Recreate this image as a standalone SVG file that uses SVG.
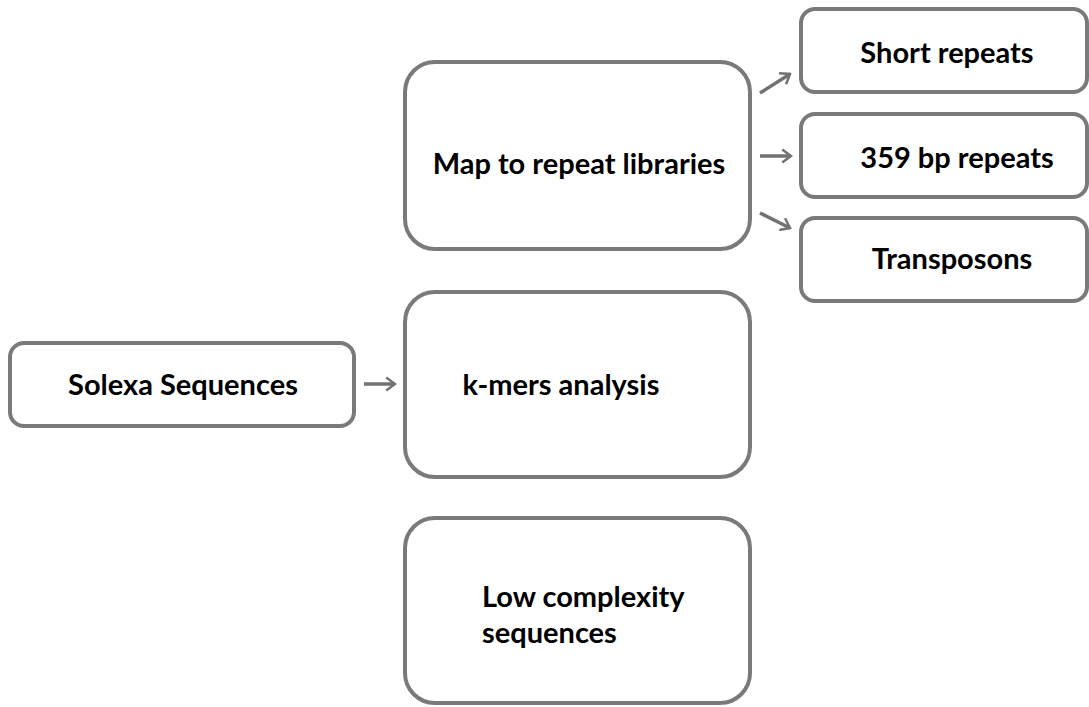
<svg xmlns="http://www.w3.org/2000/svg" width="1089" height="707" viewBox="0 0 1089 707">
<defs>
<style>
.box{fill:#fff;stroke:#7a7a7a;stroke-width:4}
.t{font-family:Lato,"Open Sans","Liberation Sans",sans-serif;font-weight:bold;font-size:29px;fill:#000}
.c{stroke:#727272;stroke-width:3.5;fill:none}
</style>
<marker id="ah" viewBox="0 0 10 12" refX="8.5" refY="6" markerWidth="3.6" markerHeight="4.3" orient="auto" markerUnits="strokeWidth">
<path d="M1.5,0.8 L8.5,6 L1.5,11.2" fill="none" stroke="#727272" stroke-width="2" stroke-linejoin="miter"/>
</marker>
</defs>
<rect width="1089" height="707" fill="#fff"/>
<g id="solexa"><rect class="box" x="10" y="343" width="344" height="83" rx="14"/><text class="t" x="183" y="395" text-anchor="middle">Solexa Sequences</text></g>
<g id="map"><rect class="box" x="405" y="62" width="345" height="187" rx="30"/><text class="t" x="579" y="174" text-anchor="middle">Map to repeat libraries</text></g>
<g id="kmers"><rect class="box" x="405" y="292" width="345" height="185" rx="30"/><text class="t" x="561" y="395" text-anchor="middle">k-mers analysis</text></g>
<g id="lowc"><rect class="box" x="405" y="518" width="345" height="185" rx="30"/><text class="t" x="482" y="607">Low complexity</text><text class="t" x="482" y="643">sequences</text></g>
<g id="short"><rect class="box" x="801" y="9" width="286" height="83" rx="14"/><text class="t" x="947" y="63" text-anchor="middle">Short repeats</text></g>
<g id="r359"><rect class="box" x="801" y="114" width="286" height="83" rx="14"/><text class="t" x="957" y="168" text-anchor="middle">359 bp repeats</text></g>
<g id="transp"><rect class="box" x="801" y="218" width="286" height="83" rx="14"/><text class="t" x="952" y="269" text-anchor="middle">Transposons</text></g>
<g id="connectors">
<line class="c" x1="760" y1="93" x2="790" y2="74" marker-end="url(#ah)"/>
<line class="c" x1="760" y1="156" x2="791" y2="156" marker-end="url(#ah)"/>
<line class="c" x1="760" y1="213" x2="790" y2="228" marker-end="url(#ah)"/>
<line class="c" x1="364" y1="384" x2="395" y2="384" marker-end="url(#ah)"/>
</g>
</svg>
